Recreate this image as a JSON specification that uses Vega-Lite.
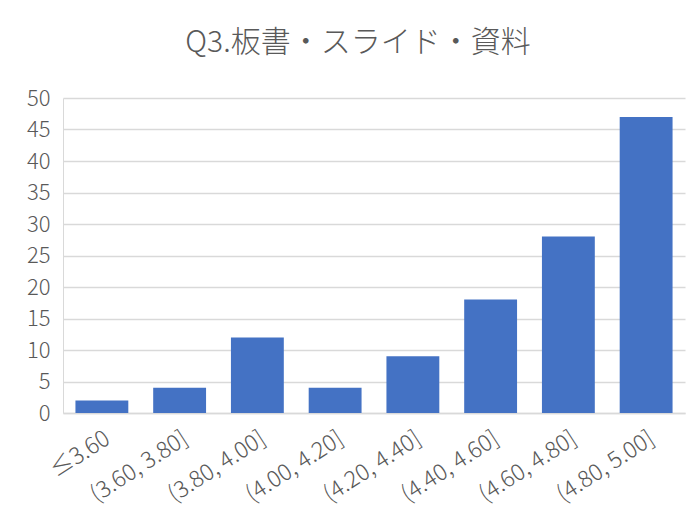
{
  "$schema": "https://vega.github.io/schema/vega-lite/v6.json",
  "autosize": {"type": "none"},
  "width": 622,
  "height": 315,
  "padding": {"left": 63, "top": 98, "right": 12, "bottom": 110},
  "background": "white",
  "title": {
    "text": "Q3.板書・スライド・資料",
    "font": "Noto Sans CJK JP",
    "fontSize": 30,
    "fontWeight": 300,
    "color": "#595959",
    "anchor": "middle",
    "dx": -16,
    "offset": 29
  },
  "data": {
    "values": [
      {"range": "≤3.60", "count": 2},
      {"range": "(3.60, 3.80]", "count": 4},
      {"range": "(3.80, 4.00]", "count": 12},
      {"range": "(4.00, 4.20]", "count": 4},
      {"range": "(4.20, 4.40]", "count": 9},
      {"range": "(4.40, 4.60]", "count": 18},
      {"range": "(4.60, 4.80]", "count": 28},
      {"range": "(4.80, 5.00]", "count": 47}
    ]
  },
  "mark": {"type": "bar", "color": "#4472C4"},
  "encoding": {
    "x": {
      "field": "range",
      "type": "nominal",
      "sort": null,
      "scale": {"paddingInner": 0.32, "paddingOuter": 0.16},
      "axis": {
        "title": null,
        "labelAngle": -33,
        "labelFont": "Noto Sans CJK JP",
        "labelFontSize": 23,
        "labelFontWeight": 300,
        "labelColor": "#595959",
        "labelPadding": 14,
        "ticks": false,
        "domainColor": "#d9d9d9",
        "domainWidth": 1.5
      }
    },
    "y": {
      "field": "count",
      "type": "quantitative",
      "scale": {"domain": [0, 50], "nice": false},
      "axis": {
        "title": null,
        "values": [0, 5, 10, 15, 20, 25, 30, 35, 40, 45, 50],
        "labelFont": "Noto Sans CJK JP",
        "labelFontSize": 22,
        "labelFontWeight": 300,
        "labelColor": "#595959",
        "labelPadding": 13,
        "ticks": false,
        "domainColor": "#d9d9d9",
        "gridColor": "#d9d9d9",
        "gridWidth": 1.5
      }
    }
  },
  "config": {
    "view": {"stroke": null}
  }
}
